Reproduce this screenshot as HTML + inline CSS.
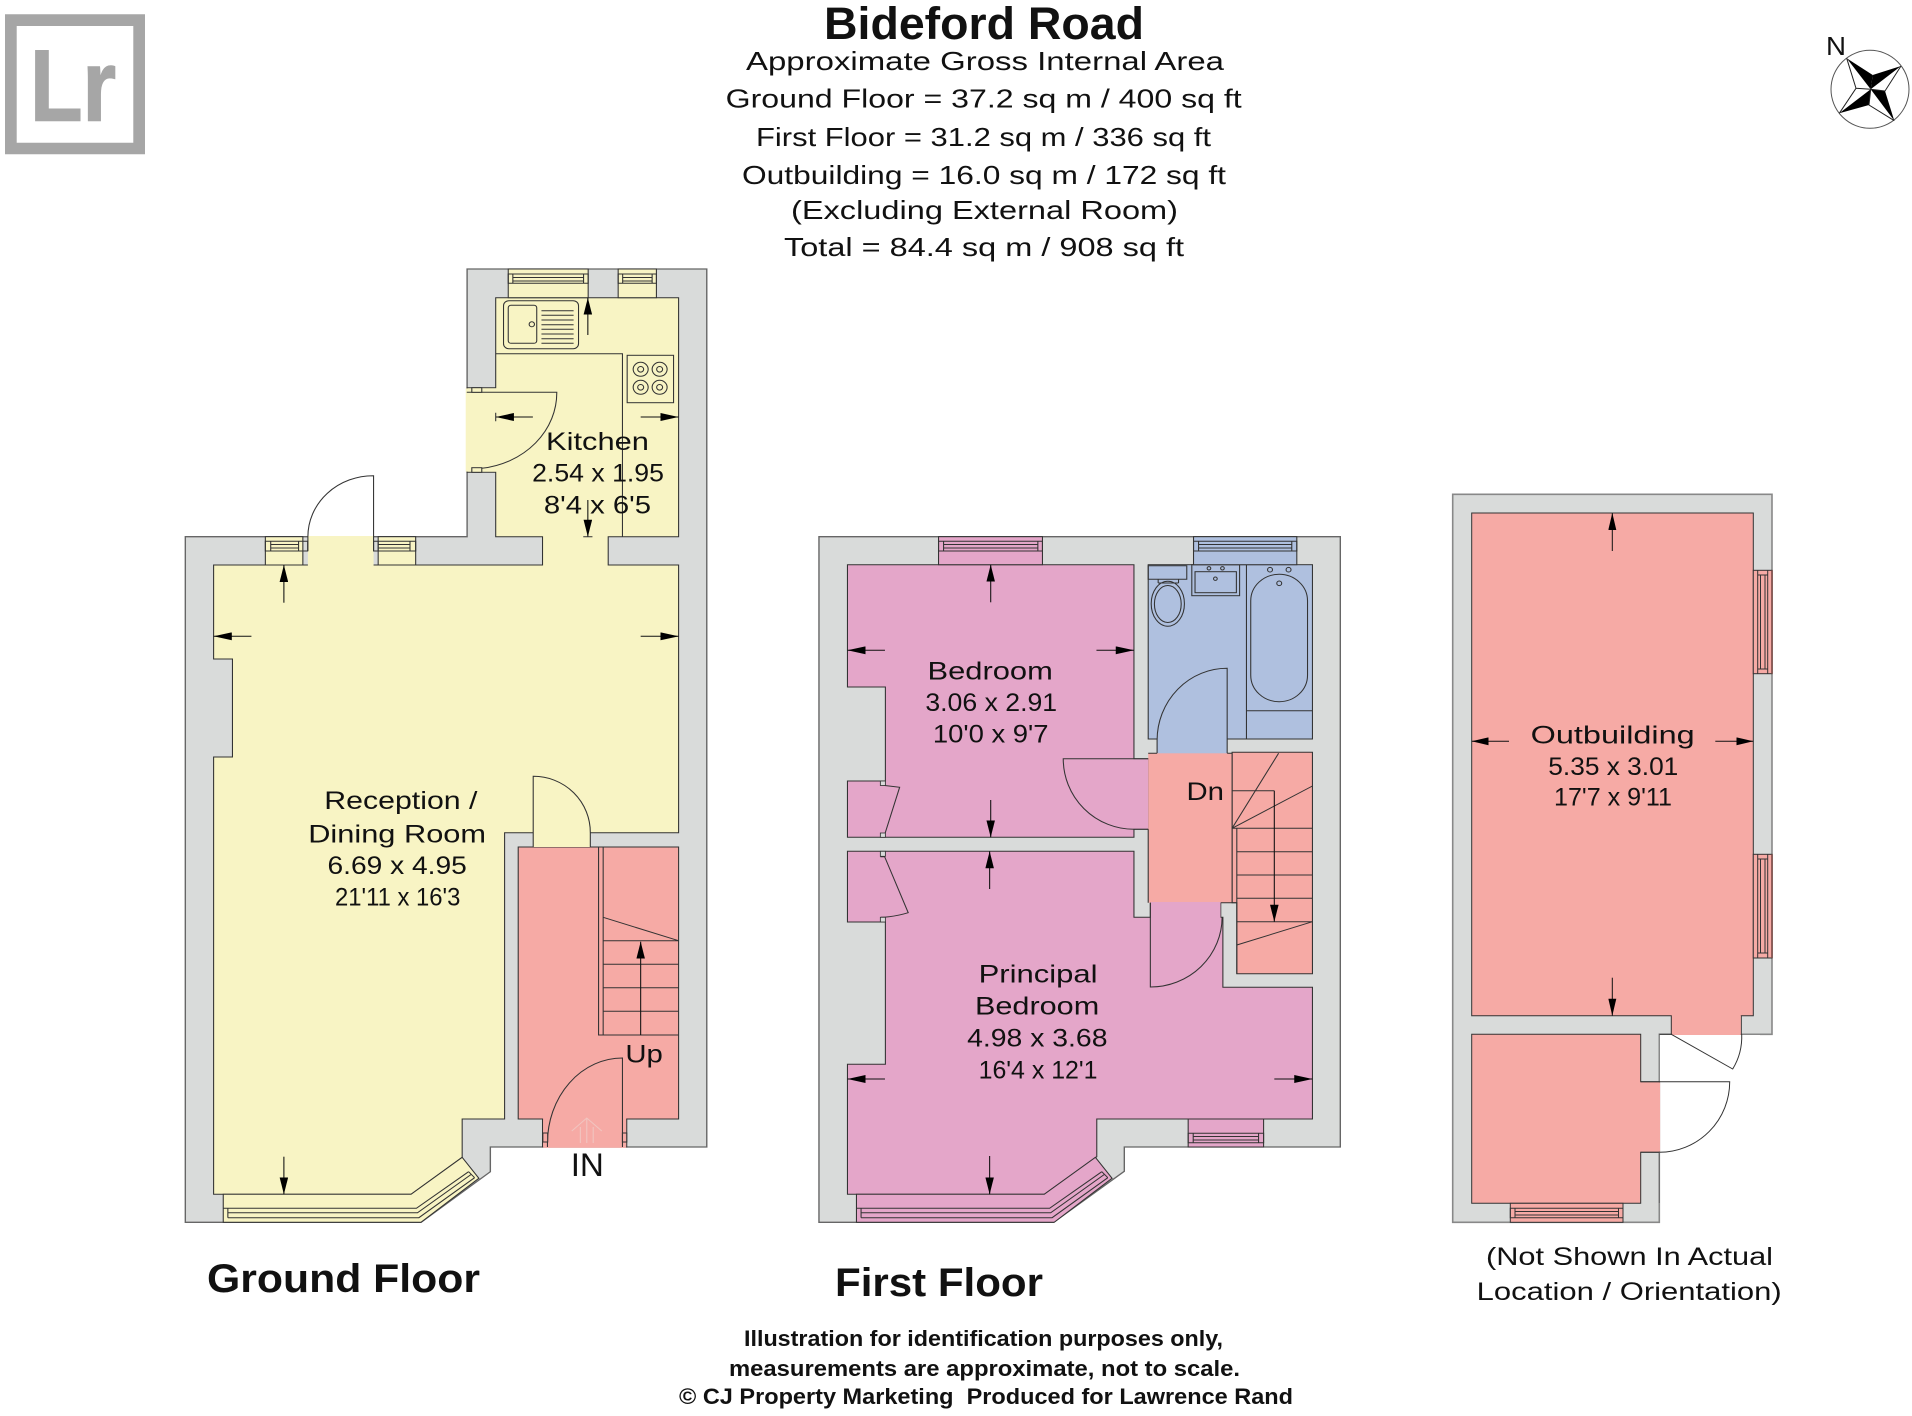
<!DOCTYPE html>
<html lang="en">
<head>
<meta charset="utf-8">
<title>Bideford Road</title>
<style>
html,body{margin:0;padding:0;background:#fff;}
svg{display:block;}
text{font-family:"Liberation Sans",sans-serif;fill:#111;}
.l{font-size:25px;}
.h{font-size:26px;}
.b{font-weight:700;}
.w{fill:#d9dbda;stroke:#666;stroke-width:1.3;}
.y{fill:#f8f4c4;}
.s{fill:#f6aaa5;}
.p{fill:#e4a6c9;}
.u{fill:#afc0df;}
.k{stroke:#333;stroke-width:1;}
.n{fill:none;stroke:#333;stroke-width:1;}
.ar{stroke:#111;stroke-width:1;fill:none;marker-end:url(#ah);}
</style>
</head>
<body>
<svg width="1912" height="1416" viewBox="0 0 1912 1416" xmlns="http://www.w3.org/2000/svg">
<defs>
<marker id="ah" markerUnits="userSpaceOnUse" markerWidth="17" markerHeight="8" refX="17" refY="4" orient="auto">
<polygon points="0,0 17,4 0,8" fill="#000"/>
</marker>
</defs>
<rect width="1912" height="1416" fill="#fff"/>

<!-- logo -->
<path d="M5 14.3H145V154.3H5ZM16.7 26V142.7H133.3V26Z" fill="#a6a6a6" fill-rule="evenodd"/>
<text x="30" y="120.7" font-size="101" class="b" style="fill:#a6a6a6;stroke:#a6a6a6;stroke-width:1.5" textLength="86" lengthAdjust="spacingAndGlyphs">Lr</text>

<!-- header -->
<text x="824" y="39" font-size="45" class="b" textLength="320" lengthAdjust="spacingAndGlyphs">Bideford Road</text>
<text x="746" y="70" class="h" textLength="478" lengthAdjust="spacingAndGlyphs">Approximate Gross Internal Area</text>
<text x="725.7" y="107.7" class="h" textLength="516" lengthAdjust="spacingAndGlyphs">Ground Floor = 37.2 sq m / 400 sq ft</text>
<text x="756" y="146" class="h" textLength="455" lengthAdjust="spacingAndGlyphs">First Floor = 31.2 sq m / 336 sq ft</text>
<text x="742" y="184" class="h" textLength="484" lengthAdjust="spacingAndGlyphs">Outbuilding = 16.0 sq m / 172 sq ft</text>
<text x="791" y="219" class="h" textLength="387" lengthAdjust="spacingAndGlyphs">(Excluding External Room)</text>
<text x="784" y="256" class="h" textLength="400" lengthAdjust="spacingAndGlyphs">Total = 84.4 sq m / 908 sq ft</text>

<!-- compass -->
<text x="1826" y="55" font-size="26" textLength="20" lengthAdjust="spacingAndGlyphs">N</text>
<circle cx="1870" cy="89.3" r="39" fill="none" stroke="#555" stroke-width="1"/>
<g fill="#000">
<polygon points="1846.7,58.3 1872.7,75 1870.7,89.3"/>
<polygon points="1901,66 1872.7,75 1870.7,89.3"/>
<polygon points="1894.3,120.7 1885,91 1870.7,89.3"/>
<polygon points="1839.3,113.3 1869,105 1870.7,89.3"/>
</g>
<g stroke="#222" stroke-width="1" fill="none">
<path d="M1846.7 58.3L1856 88.3L1870.7 89.3M1901 66L1885 91L1870.7 89.3M1894.3 120.7L1869 105L1870.7 89.3M1839.3 113.3L1856 88.3"/>
</g>

<!-- GROUND FLOOR -->
<g transform="translate(170 0) scale(1.0714 1) translate(-170 0)">
<path class="w" d="M184.3 536.7H447.3V269H671V1147H469V1171.7L404.3 1222.3H184.3Z"/>
<path class="y k" d="M210.7 565H517.7V536.7H474V472.3H447.3V387.7H474V297.7H644.7V536.7H579V565H644.7V832.7H482.3V1119H442.7V1157.3L395 1194.3H210.7V757H228.3V659H210.7Z"/>
<rect class="y" x="446" y="388.4" width="28.6" height="83.2"/>
<rect class="y" x="298.7" y="536" width="61.3" height="30"/>
<!-- windows ground -->
<g class="k y">
<rect x="485.7" y="269" width="74.6" height="28.7"/>
<rect x="588.3" y="269" width="35.7" height="28.7"/>
<rect x="259" y="536.7" width="35" height="28.3"/>
<rect x="364.3" y="536.7" width="35" height="28.3"/>
</g>
<g class="n">
<path d="M485.7 274H560.3V283.3H485.7ZM490 274V283.3M556 274V283.3M490 277.5H556M490 281H556"/>
<path d="M588.3 274H624V283.3H588.3ZM592.5 274V283.3M620 274V283.3M592.5 277.5H620M592.5 281H620"/>
<path d="M259 541.3H298.5V551H259ZM264 541.3V551M290 541.3V551M264 544.5H290M264 548H290"/>
<path d="M360 541.3H399.3V551H360ZM364.3 541.3V551M394 541.3V551M364.3 544.5H394M364.3 548H394"/>
</g>
<!-- back door -->
<path class="n" d="M360 551V475.7A61 61 0 0 0 298.7 536.7V551"/>
<!-- kitchen door -->
<path class="n" d="M447 392.3H531A80 76 0 0 1 461 468.3"/>
<rect class="y k" x="451.7" y="387.7" width="9.3" height="4.6"/>
<rect class="y k" x="451.7" y="467.7" width="9.3" height="4.6"/>
<!-- kitchen fittings -->
<path class="n" d="M474 353.7H592.3V536.7"/>
<rect class="n" x="481.3" y="300.7" width="70" height="48" rx="5"/>
<rect class="n" x="485.7" y="305.3" width="26.6" height="38" rx="2.5"/>
<circle class="n" cx="507.7" cy="324.3" r="2.5"/>
<path class="n" d="M516.7 310.7H546.7M516.7 315.3H546.7M516.7 320H546.7M516.7 324.7H546.7M516.7 329.3H546.7M516.7 334H546.7M516.7 338.7H546.7M516.7 343.3H546.7"/>
<rect class="n" x="596.7" y="355.3" width="43.3" height="47.4"/>
<g class="n">
<circle cx="609.3" cy="369.3" r="7"/><circle cx="609.3" cy="369.3" r="2.8"/>
<circle cx="627" cy="369.3" r="7"/><circle cx="627" cy="369.3" r="2.8"/>
<circle cx="609.3" cy="387.3" r="7"/><circle cx="609.3" cy="387.3" r="2.8"/>
<circle cx="627" cy="387.3" r="7"/><circle cx="627" cy="387.3" r="2.8"/>
</g>
<!-- hall -->
<path class="s k" d="M495 847H644.7V1119H596.3V1147H517.7V1119H495Z"/>
<rect class="s" x="518.3" y="1120" width="77.4" height="27.8"/>
<rect class="y" x="509" y="831.5" width="53.3" height="15.5"/>
<path class="n" d="M509 847V776.3A53 56 0 0 1 562.3 832.7V847"/>
<path class="n" d="M570 847V1035H644.7M574.3 847V1035M574.3 917.3L644.7 940.7M574.3 940.7H644.7M574.3 964.3H644.7M574.3 987.7H644.7M574.3 1011.3H644.7"/>
<line class="ar" x1="609.3" y1="1035" x2="609.3" y2="941.7"/>
<path class="n" d="M592.3 1147V1058A70 85 0 0 0 522.3 1143V1147"/>
<rect class="s k" x="518" y="1133" width="4.5" height="9"/>
<rect class="s k" x="592.3" y="1133" width="4" height="9"/>
<path d="M559 1143V1118M545 1131L559 1118L573 1131M553 1127V1143M565 1127V1143" fill="none" stroke="#f1c5c0" stroke-width="1"/>
<!-- bay ground -->
<g>
<path class="y k" d="M219.7 1194.3H395L442.7 1157.3L458.3 1178.3L404.3 1222.3H219.7Z"/>
<path class="n" d="M219.7 1208.3H400L448.7 1171.7M224 1212.8H401L451 1174.5M224 1217.7H402.3L454.3 1177.7M224 1208.3V1217.7M448.7 1171.7L454.3 1177.7"/>
</g>
<!-- ground arrows -->
<line class="ar" x1="560" y1="335" x2="560" y2="297.7"/>
<line class="ar" x1="508.7" y1="417" x2="474" y2="417"/>
<line class="ar" x1="609.3" y1="417" x2="644.7" y2="417"/>
<line class="ar" x1="560" y1="500" x2="560" y2="536.7"/>
<path class="n" d="M555.7 536.7H564.3M474 412.7V421.3"/>
<line class="ar" x1="276.3" y1="602.7" x2="276.3" y2="565"/>
<line class="ar" x1="246" y1="636.3" x2="210.7" y2="636.3"/>
<line class="ar" x1="609.3" y1="636.3" x2="644.7" y2="636.3"/>
<line class="ar" x1="276.3" y1="1156.7" x2="276.3" y2="1194.3"/>
<!-- ground labels -->
<text x="521" y="450" class="l" textLength="96" lengthAdjust="spacingAndGlyphs">Kitchen</text>
<text x="508" y="481.7" class="l" textLength="123" lengthAdjust="spacingAndGlyphs">2.54 x 1.95</text>
<text x="519" y="513.3" class="l" textLength="100" lengthAdjust="spacingAndGlyphs">8'4 x 6'5</text>
<text x="314" y="809" class="l" textLength="143" lengthAdjust="spacingAndGlyphs">Reception /</text>
<text x="299" y="842.3" class="l" textLength="166" lengthAdjust="spacingAndGlyphs">Dining Room</text>
<text x="317" y="874" class="l" textLength="130" lengthAdjust="spacingAndGlyphs">6.69 x 4.95</text>
<text x="324" y="905.3" class="l" textLength="117" lengthAdjust="spacingAndGlyphs">21'11 x 16'3</text>
<text x="595" y="1062.7" class="l" textLength="35" lengthAdjust="spacingAndGlyphs">Up</text>
<text x="544" y="1176" font-size="32" textLength="31" lengthAdjust="spacingAndGlyphs">IN</text>
</g>
<text x="207" y="1292" font-size="40" class="b" textLength="273" lengthAdjust="spacingAndGlyphs">Ground Floor</text>

<!-- FIRST FLOOR -->
<g transform="translate(800 0) scale(1.0714 1) translate(-800 0)">
<path class="w" d="M817.7 536.7H1304.3V1147H1102.7V1171.3L1036.7 1222.3H817.7Z"/>
<path class="p k" d="M844.3 564.7H1111.7V758.7H1125V829.3H1111.7V837.3H844.3V781H879.7V687H844.3Z"/>
<path class="p k" d="M844.3 851.3H1111.7V917.3H1127V902.7H1192.7V917.3H1194.7V987.3H1278.3V1119H1077V1156.7L1028 1194.3H844.3V1064.3H879.7V922H844.3Z"/>
<!-- bedroom cupboards -->
<path class="n" d="M875 785L893 787.3L879.5 833M875 856.7H879L901 912.7Q888 917 875.3 917.3"/>
<rect class="w" x="875" y="781" width="4.7" height="4.5" style="stroke:#333;stroke-width:.8"/>
<rect class="w" x="875" y="833" width="4.7" height="4.3" style="stroke:#333;stroke-width:.8"/>
<rect class="w" x="875" y="851.3" width="4.7" height="5" style="stroke:#333;stroke-width:.8"/>
<rect class="w" x="875" y="917.3" width="4.7" height="4.7" style="stroke:#333;stroke-width:.8"/>
<!-- bathroom -->
<rect class="u k" x="1125" y="564.7" width="153.3" height="174.3"/>
<rect class="u" x="1133.3" y="738" width="65.4" height="16"/>
<path class="n" d="M1198.7 753.3V668.3A65.4 72 0 0 0 1133.3 740V753.3"/>
<path class="n" d="M1125 565.7H1161V579.3H1125ZM1134.3 579.3V583M1153.3 579.3V583M1134.3 583H1153.3"/>
<ellipse class="n" cx="1143.3" cy="603.7" rx="15.5" ry="22.5"/>
<ellipse class="n" cx="1143.3" cy="604" rx="12.5" ry="18.5"/>
<rect class="n" x="1165.7" y="564.7" width="44.6" height="31"/>
<rect class="n" x="1168.7" y="571.7" width="38.6" height="21"/>
<circle class="n" cx="1181.7" cy="568.3" r="1.7"/><circle class="n" cx="1194.3" cy="568.3" r="1.7"/><circle class="n" cx="1187.7" cy="578.7" r="1.7"/>
<path class="n" d="M1216.7 564.7V739M1216.7 710.7H1278.3"/>
<rect class="n" x="1220.7" y="574.3" width="53" height="127.4" rx="26.5"/>
<circle class="n" cx="1238.7" cy="569.7" r="2.3"/><circle class="n" cx="1256" cy="569.7" r="2.3"/><circle class="n" cx="1247.3" cy="583.3" r="2.3"/>
<!-- landing + stairs -->
<path class="s k" d="M1203.3 752.3H1278.3V973.7H1207.7V902.7H1203.3Z"/>
<rect class="s" x="1125" y="753.3" width="78.3" height="149.4"/>
<path class="n" d="M1125 753.3H1133.3M1198.7 753.3H1203.3M1125 829.3V902.7M1203.3 753.3V902.7M1207.7 828.3V973.7M1192.7 902.7H1207.7"/>
<rect class="p" x="1111" y="759.3" width="14" height="69.4"/>
<rect class="p" x="1127.5" y="902" width="65" height="16"/>
<path class="n" d="M1125 758.7H1045.7A66 70.5 0 0 0 1111.7 829.3H1125"/>
<path class="n" d="M1127 902.7V987A67 70 0 0 0 1194 917.3"/>
<path class="n" d="M1203.3 828.3L1246.7 753.3M1203.3 828.3L1278.3 786M1203.3 790.7H1242.7M1203.3 828.3H1278.3M1207.7 851.7H1278.3M1207.7 875H1278.3M1207.7 898.3H1278.3M1207.7 921.7H1278.3M1207.7 945L1278.3 921.7"/>
<line class="ar" x1="1242.7" y1="790.7" x2="1242.7" y2="921.7"/>
<!-- windows first -->
<g class="k p">
<rect x="929.3" y="536.7" width="97" height="28"/>
<rect x="1162.3" y="1119" width="70.4" height="28"/>
</g>
<rect class="u k" x="1167.3" y="536.7" width="96.4" height="28"/>
<g class="n">
<path d="M929.3 541.3H1026.3V551H929.3ZM934 541.3V551M1022 541.3V551M934 544.5H1022M934 548H1022"/>
<path d="M1167.3 541.3H1263.7V551H1167.3ZM1172 541.3V551M1259 541.3V551M1172 544.5H1259M1172 548H1259"/>
<path d="M1162.3 1133.3H1232.7V1142.7H1162.3ZM1167 1133.3V1142.7M1228 1133.3V1142.7M1167 1136.5H1228M1167 1140H1228"/>
</g>
<!-- bay first -->
<g transform="translate(633 0)">
<path class="p k" d="M219.7 1194.3H395L442.7 1157.3L458.3 1178.3L404.3 1222.3H219.7Z"/>
<path class="n" d="M219.7 1208.3H400L448.7 1171.7M224 1212.8H401L451 1174.5M224 1217.7H402.3L454.3 1177.7M224 1208.3V1217.7M448.7 1171.7L454.3 1177.7"/>
</g>
<!-- first arrows -->
<line class="ar" x1="978" y1="602.3" x2="978" y2="564.7"/>
<line class="ar" x1="879.3" y1="650.3" x2="844.3" y2="650.3"/>
<line class="ar" x1="1076.7" y1="650.3" x2="1111.7" y2="650.3"/>
<line class="ar" x1="978" y1="800" x2="978" y2="837.3"/>
<line class="ar" x1="977" y1="889" x2="977" y2="851.3"/>
<line class="ar" x1="879.3" y1="1079" x2="844.3" y2="1079"/>
<line class="ar" x1="1242.7" y1="1079" x2="1278.3" y2="1079"/>
<line class="ar" x1="977" y1="1156" x2="977" y2="1194.3"/>
<!-- first labels -->
<text x="919" y="679.3" class="l" textLength="117" lengthAdjust="spacingAndGlyphs">Bedroom</text>
<text x="917" y="711" class="l" textLength="123" lengthAdjust="spacingAndGlyphs">3.06 x 2.91</text>
<text x="924" y="742.3" class="l" textLength="108" lengthAdjust="spacingAndGlyphs">10'0 x 9'7</text>
<text x="1160.7" y="800" class="l" textLength="35" lengthAdjust="spacingAndGlyphs">Dn</text>
<text x="966.7" y="982.3" class="l" textLength="111" lengthAdjust="spacingAndGlyphs">Principal</text>
<text x="963.3" y="1014.7" class="l" textLength="116" lengthAdjust="spacingAndGlyphs">Bedroom</text>
<text x="956" y="1046.7" class="l" textLength="131" lengthAdjust="spacingAndGlyphs">4.98 x 3.68</text>
<text x="966.7" y="1078.3" class="l" textLength="111" lengthAdjust="spacingAndGlyphs">16'4 x 12'1</text>
</g>
<text x="835" y="1296" font-size="40" class="b" textLength="208" lengthAdjust="spacingAndGlyphs">First Floor</text>

<!-- OUTBUILDING -->
<path class="w" d="M1452.7 494.3H1772V1034.3H1659.3V1222.3H1452.7Z" style="stroke:#888;stroke-width:1.6"/>
<path class="s k" d="M1471.7 513H1753.3V1015.7H1741.3V1034.3H1671.3V1015.7H1471.7Z"/>
<rect class="s" x="1672" y="1016" width="68.8" height="19.5"/>
<rect fill="#fff" x="1660" y="1035" width="100" height="46"/>
<path class="s k" d="M1471.7 1034.3H1640.7V1081.7H1659.3V1152.3H1640.7V1203.3H1471.7Z"/>
<rect class="s" x="1641.3" y="1082.4" width="18.8" height="69.2"/>
<path class="n" d="M1659.3 1034.3H1671.3M1671.3 1034.3L1732.7 1069A62 62 0 0 0 1741.7 1034.3"/>
<path class="n" d="M1640.7 1081.7H1729.7A70.5 70.5 0 0 1 1659.3 1152.3H1640.7"/>
<path d="M1659.3 1152.3V1203" stroke="#666" stroke-width="1" fill="none"/>
<g class="k s">
<rect x="1510.3" y="1203.3" width="112.7" height="19"/>
<rect x="1753.3" y="570.3" width="18.7" height="103.4"/>
<rect x="1753.3" y="854.3" width="18.7" height="103.7"/>
</g>
<path class="n" d="M1510.3 1208.3H1623V1217.7H1510.3ZM1515 1208.3V1217.7M1618.5 1208.3V1217.7M1515 1211.5H1618.5M1515 1215H1618.5"/>
<path class="n" d="M1757.7 570.3V673.7M1767.7 570.3V673.7M1757.7 575H1767.7M1757.7 669H1767.7M1760.5 575V669M1765 575V669"/>
<path class="n" d="M1757.7 854.3V958M1767.7 854.3V958M1757.7 859H1767.7M1757.7 953H1767.7M1760.5 859V953M1765 859V953"/>
<path d="M1772 570.3V673.7M1772 854.3V958" stroke="#7a4a46" stroke-width="1.6" fill="none"/>
<line class="ar" x1="1612.3" y1="551" x2="1612.3" y2="513"/>
<line class="ar" x1="1509" y1="741.3" x2="1471.7" y2="741.3"/>
<line class="ar" x1="1715.3" y1="741.3" x2="1753.3" y2="741.3"/>
<line class="ar" x1="1612.3" y1="977.7" x2="1612.3" y2="1015.7"/>
<text x="1530.7" y="743.3" class="l" textLength="164" lengthAdjust="spacingAndGlyphs">Outbuilding</text>
<text x="1548.3" y="775" class="l" textLength="130" lengthAdjust="spacingAndGlyphs">5.35 x 3.01</text>
<text x="1554" y="805.7" class="l" textLength="118" lengthAdjust="spacingAndGlyphs">17'7 x 9'11</text>
<text x="1486" y="1265" class="l" textLength="287" lengthAdjust="spacingAndGlyphs">(Not Shown In Actual</text>
<text x="1476.7" y="1300" class="l" textLength="305" lengthAdjust="spacingAndGlyphs">Location / Orientation)</text>

<!-- footer -->
<text x="744" y="1346" font-size="22" class="b" textLength="479" lengthAdjust="spacingAndGlyphs">Illustration for identification purposes only,</text>
<text x="729" y="1376" font-size="22" class="b" textLength="511" lengthAdjust="spacingAndGlyphs">measurements are approximate, not to scale.</text>
<text x="679" y="1404" font-size="22" class="b" textLength="614" lengthAdjust="spacingAndGlyphs" xml:space="preserve">© CJ Property Marketing  Produced for Lawrence Rand</text>
</svg>
</body>
</html>
